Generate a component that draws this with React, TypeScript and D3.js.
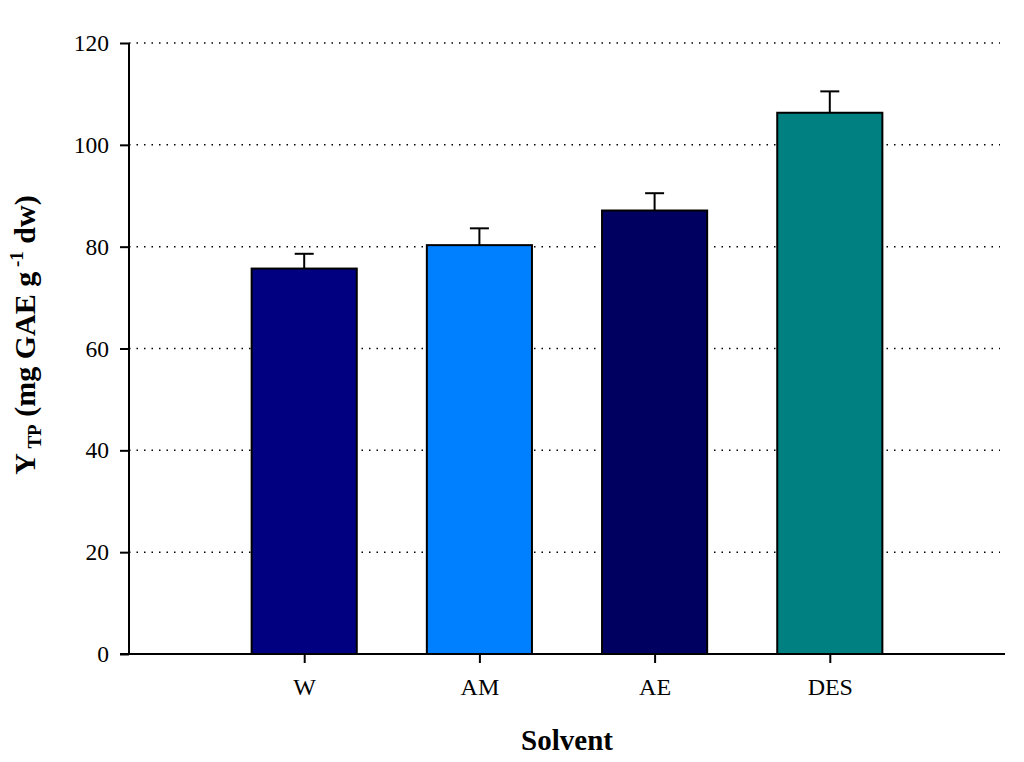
import { useRef, useEffect } from 'react'
import { select, scaleLinear, axisLeft, axisBottom } from 'd3'

const categories = ['W', 'AM', 'AE', 'DES']
const means = [75.7, 80.3, 87.1, 106.3]
const errors = [2.9, 3.3, 3.4, 4.2]
const barColors = ['#000080', '#0080ff', '#000060', '#008080']
const yTicks = [0, 20, 40, 60, 80, 100, 120]

const App = () => {
  const svgRef = useRef<SVGSVGElement>(null)

  useEffect(() => {
    const svg = select(svgRef.current)
    svg.selectAll('*').remove()

    const margin = { top: 43, right: 19, bottom: 108, left: 129 }
    const width = 1024
    const height = 762
    const innerWidth = width - margin.left - margin.right
    const innerHeight = height - margin.top - margin.bottom

    const g = svg
      .append('g')
      .attr('transform', `translate(${margin.left} ${margin.top})`)

    // categories sit at 1..4 on a 0..5 linear axis
    const xScale = scaleLinear().domain([0, 5]).range([0, innerWidth])
    const yScale = scaleLinear().domain([0, 120]).range([innerHeight, 0])
    const barWidth = xScale(0.6) - xScale(0)
    const capHalf = 9.5

    // dotted grid
    g.selectAll('.grid')
      .data(yTicks.filter((d) => d > 0))
      .join('line')
      .attr('x1', 0)
      .attr('x2', innerWidth - 5)
      .attr('y1', (d) => yScale(d))
      .attr('y2', (d) => yScale(d))
      .attr('stroke', 'black')
      .attr('stroke-width', 1.5)
      .attr('stroke-dasharray', '1.5,6')

    // error bars (drawn under the bar so only the top part shows)
    const err = g.selectAll('.err').data(categories).join('g')
    err
      .append('line')
      .attr('x1', (_, i) => xScale(i + 1))
      .attr('x2', (_, i) => xScale(i + 1))
      .attr('y1', (_, i) => yScale(means[i]))
      .attr('y2', (_, i) => yScale(means[i] + errors[i]))
      .attr('stroke', 'black')
      .attr('stroke-width', 2)
    err
      .append('line')
      .attr('x1', (_, i) => xScale(i + 1) - capHalf)
      .attr('x2', (_, i) => xScale(i + 1) + capHalf)
      .attr('y1', (_, i) => yScale(means[i] + errors[i]))
      .attr('y2', (_, i) => yScale(means[i] + errors[i]))
      .attr('stroke', 'black')
      .attr('stroke-width', 2)

    // bars
    g.selectAll('.bar')
      .data(categories)
      .join('rect')
      .attr('x', (_, i) => xScale(i + 1) - barWidth / 2)
      .attr('y', (_, i) => yScale(means[i]))
      .attr('width', barWidth)
      .attr('height', (_, i) => innerHeight - yScale(means[i]))
      .attr('fill', (_, i) => barColors[i])
      .attr('stroke', 'black')
      .attr('stroke-width', 2)

    // axes
    const yAxis = axisLeft(yScale).tickValues(yTicks).tickSize(9).tickPadding(11)
    const yAxisGroup = g.append('g').call(yAxis)

    const xAxis = axisBottom(xScale)
      .tickValues([1, 2, 3, 4])
      .tickFormat((d) => categories[(d as number) - 1])
      .tickSize(9)
      .tickPadding(15)
    const xAxisGroup = g
      .append('g')
      .attr('transform', `translate(0, ${innerHeight})`)
      .call(xAxis)

    g.selectAll('.domain').remove()
    g.append('line')
      .attr('x1', 0).attr('x2', 0)
      .attr('y1', 0).attr('y2', innerHeight)
      .attr('stroke', 'black').attr('stroke-width', 2)
    g.append('line')
      .attr('x1', -9).attr('x2', innerWidth)
      .attr('y1', innerHeight).attr('y2', innerHeight)
      .attr('stroke', 'black').attr('stroke-width', 2)

    g.selectAll('.tick line').attr('stroke', 'black').attr('stroke-width', 2)
    g.selectAll('.tick text')
      .attr('fill', 'black')
      .attr('font-family', '"Liberation Serif", "Times New Roman", serif')
    yAxisGroup.selectAll('.tick text').attr('font-size', 23.5)
    xAxisGroup.selectAll('.tick text').attr('font-size', 24)

    // axis titles
    svg
      .append('text')
      .attr('x', 567)
      .attr('y', 750)
      .attr('text-anchor', 'middle')
      .attr('font-family', '"Liberation Serif", "Times New Roman", serif')
      .attr('font-weight', 'bold')
      .attr('font-size', 29)
      .text('Solvent')

    const yTitle = svg
      .append('text')
      .attr('transform', `translate(35, 335) rotate(-90)`)
      .attr('text-anchor', 'middle')
      .attr('font-family', '"Liberation Serif", "Times New Roman", serif')
      .attr('font-weight', 'bold')
      .attr('font-size', 30)
    yTitle.append('tspan').text('Y')
    yTitle.append('tspan').attr('font-size', 19).attr('dy', 6).text(' TP')
    yTitle.append('tspan').attr('dy', -6).text(' (mg GAE g')
    yTitle.append('tspan').attr('font-size', 19).attr('dy', -12).text(' -1')
    yTitle.append('tspan').attr('dy', 12).text(' dw)')
  }, [])

  return (
    <div>
      <svg
        ref={svgRef}
        width={1024}
        height={762}
        style={{ position: 'absolute', left: 0, top: 0, background: 'white' }}
      ></svg>
    </div>
  )
}

export default App
